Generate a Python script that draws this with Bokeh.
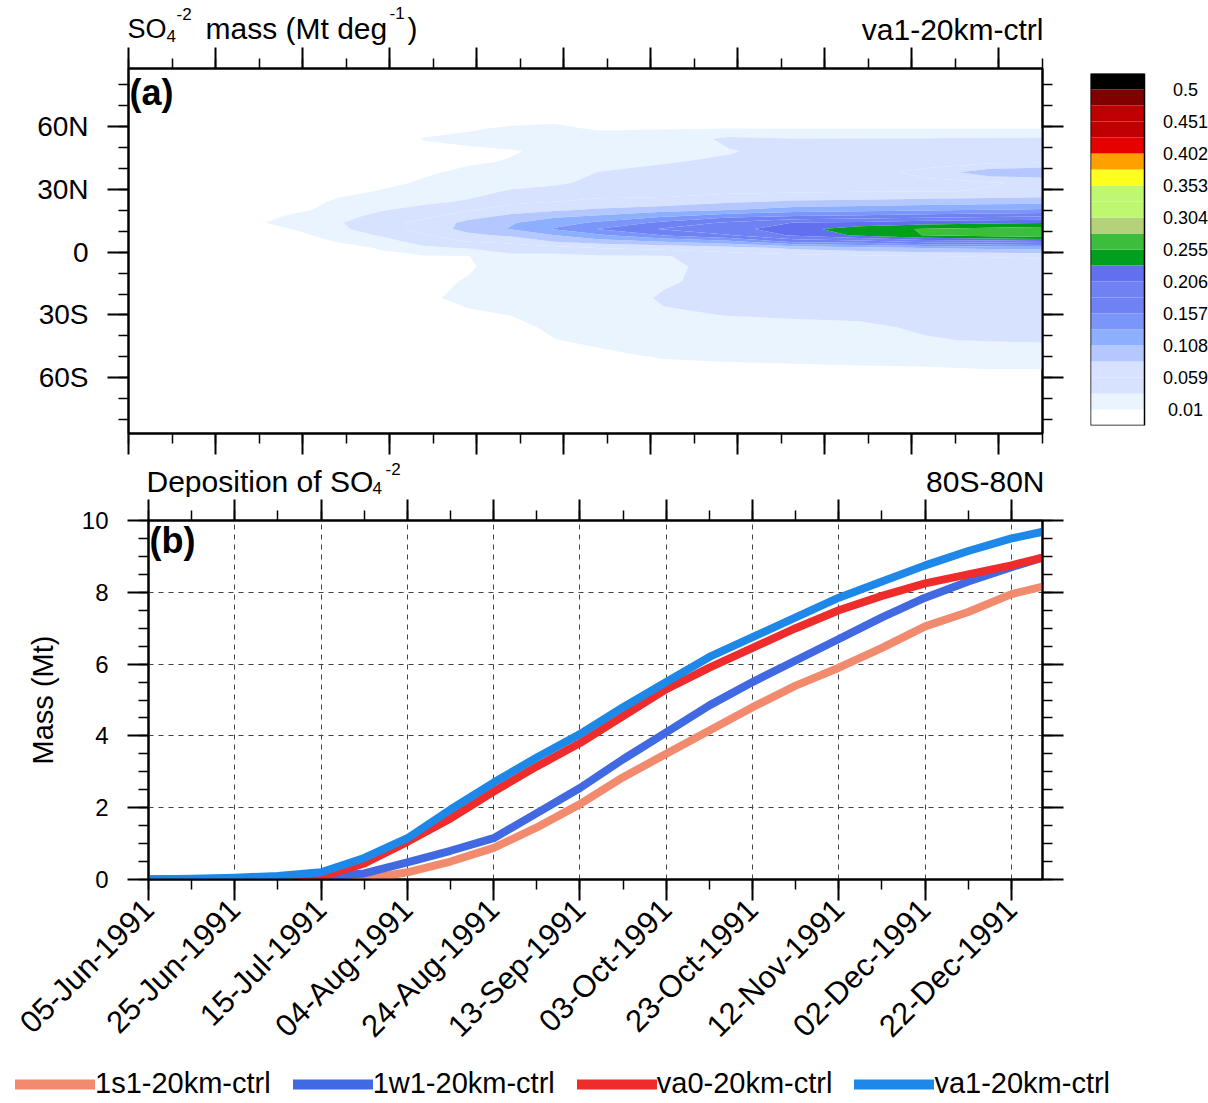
import math
import numpy as np
from bokeh.plotting import figure
from bokeh.models import Range1d, LinearAxis, FixedTicker, Label, Legend, LegendItem
from bokeh.layouts import column, row
from bokeh.embed import file_html
from bokeh.resources import INLINE
from bokeh.core.properties import value

FONT = "Liberation Sans"

# ---------------- panel (a): SO4 mass per degree latitude (Mt deg-1) ----------------
# time of each field column, days since 05-Jun-1991
time_a = [-3, 25, 35, 45, 55, 65, 75, 85, 95, 105, 120, 135, 150, 165, 180, 195, 207]
# latitude of each field row (south -> north)
lat_a = [-87, -62, -55, -48, -42, -36, -30, -22, -14, -7, -2, 2, 5, 8, 11, 14,
         17, 20, 24, 29, 33, 38, 43, 48, 54, 59, 65, 87]

so4_dm03 = [0, 0, 0, 0, 0, 0, 0, 0, 0, 0, 0, 0, 0, 0, 0, 0, 0, 0, 0, 0, 0, 0, 0, 0, 0, 0, 0, 0]
so4_d025 = [0, 0, 0, 0, 0, 0, 0, 0, 0, 0, 0, 0, 0, 0, 0, 0, 0, 0, 0, 0, 0, 0, 0, 0, 0, 0, 0, 0]
so4_d035 = [0, 0, 0, 0, 0, 0, 0, 0, 0, 0, 0, 0, 0, 0.003, 0.011, 0.028, 0.014, 0.004,
            0, 0, 0, 0, 0, 0, 0, 0, 0, 0]
so4_d045 = [0, 0, 0, 0, 0, 0, 0, 0, 0, 0, 0, 0.002, 0.011, 0.020, 0.029, 0.032, 0.026, 0.019,
            0.013, 0.005, 0, 0, 0, 0, 0, 0, 0, 0]
so4_d055 = [0, 0, 0, 0, 0, 0, 0, 0, 0, 0, 0.004, 0.012, 0.024, 0.037, 0.048, 0.050, 0.042, 0.033,
            0.022, 0.011, 0.006, 0.003, 0, 0, 0, 0, 0, 0]
so4_d065 = [0, 0, 0, 0, 0, 0, 0.002, 0.006, 0.003, 0.002, 0.008, 0.030, 0.045, 0.057, 0.068, 0.066,
            0.054, 0.042, 0.030, 0.018, 0.012, 0.008, 0.004, 0.005, 0.011, 0.003, 0, 0]
so4_d075 = [0, 0, 0, 0, 0, 0, 0.006, 0.016, 0.012, 0.007, 0.009, 0.037, 0.060, 0.078, 0.092, 0.090,
            0.075, 0.055, 0.037, 0.026, 0.019, 0.013, 0.008, 0.007, 0.014, 0.008, 0, 0]
so4_d085 = [0, 0, 0, 0, 0, 0.004, 0.0105, 0.016, 0.018, 0.022, 0.030, 0.045, 0.066, 0.088, 0.110, 0.106,
            0.090, 0.072, 0.053, 0.037, 0.026, 0.017, 0.011, 0.009, 0.016, 0.012, 0.002, 0]
so4_d095 = [0, 0, 0, 0, 0.0095, 0.014, 0.016, 0.020, 0.022, 0.025, 0.028, 0.050, 0.085, 0.108, 0.135, 0.122,
            0.104, 0.080, 0.059, 0.042, 0.031, 0.022, 0.015, 0.013, 0.016, 0.013, 0.004, 0]
so4_d105 = [0, 0, 0, 0.008, 0.013, 0.017, 0.019, 0.022, 0.024, 0.027, 0.032, 0.060, 0.097, 0.128, 0.158, 0.137,
            0.112, 0.088, 0.064, 0.049, 0.040, 0.035, 0.026, 0.020, 0.017, 0.008, 0.002, 0]
so4_d120 = [0, 0, 0.006, 0.013, 0.019, 0.026, 0.032, 0.037, 0.032, 0.030, 0.033, 0.066, 0.110, 0.158, 0.184, 0.163,
            0.130, 0.100, 0.066, 0.050, 0.046, 0.040, 0.033, 0.025, 0.018, 0.009, 0.002, 0]
so4_d135 = [0, 0, 0.007, 0.015, 0.021, 0.028, 0.035, 0.040, 0.041, 0.042, 0.045, 0.075, 0.125, 0.180, 0.197, 0.186,
            0.150, 0.108, 0.080, 0.052, 0.049, 0.045, 0.038, 0.033, 0.040, 0.009, 0.002, 0]
so4_d150 = [0, 0, 0.008, 0.016, 0.022, 0.029, 0.037, 0.042, 0.044, 0.045, 0.050, 0.090, 0.165, 0.210, 0.220, 0.207,
            0.160, 0.120, 0.087, 0.055, 0.050, 0.048, 0.044, 0.042, 0.035, 0.009, 0.002, 0]
so4_d165 = [0, 0.002, 0.009, 0.017, 0.023, 0.031, 0.038, 0.043, 0.045, 0.047, 0.055, 0.100, 0.170, 0.235, 0.245, 0.212,
            0.165, 0.125, 0.090, 0.057, 0.052, 0.050, 0.046, 0.043, 0.036, 0.009, 0.002, 0]
so4_d180 = [0, 0.003, 0.0095, 0.018, 0.033, 0.037, 0.040, 0.044, 0.046, 0.048, 0.058, 0.110, 0.190, 0.256, 0.257, 0.220,
            0.172, 0.130, 0.093, 0.058, 0.054, 0.065, 0.050, 0.045, 0.036, 0.009, 0.002, 0]
so4_d195 = [0, 0.003, 0.011, 0.022, 0.036, 0.039, 0.041, 0.045, 0.047, 0.049, 0.060, 0.115, 0.195, 0.266, 0.262, 0.225,
            0.176, 0.134, 0.096, 0.060, 0.058, 0.100, 0.053, 0.046, 0.037, 0.009, 0.002, 0]
so4_d207 = [0, 0.003, 0.011, 0.023, 0.037, 0.040, 0.042, 0.046, 0.048, 0.050, 0.062, 0.120, 0.200, 0.275, 0.268, 0.228,
            0.180, 0.137, 0.099, 0.062, 0.062, 0.105, 0.055, 0.047, 0.038, 0.009, 0.002, 0]

so4_columns = [so4_dm03, so4_d025, so4_d035, so4_d045, so4_d055, so4_d065, so4_d075, so4_d085,
               so4_d095, so4_d105, so4_d120, so4_d135, so4_d150, so4_d165, so4_d180, so4_d195, so4_d207]

so4_levels = [0.01, 0.0345, 0.059, 0.0835, 0.108, 0.1325, 0.157, 0.1815, 0.206, 0.2305, 0.255,
              0.2795, 0.304, 0.3285, 0.353, 0.3775, 0.402, 0.4265, 0.451, 0.4755, 0.5]
band_colors = ["#EAF4FF", "#D6E2FF", "#D6E2FF", "#B4C8FF", "#8CAFFF", "#7A96FA", "#6E82F4", "#6E82F4",
               "#6270F0", "#00A01E", "#3CBE3C", "#B4D27A", "#BEF86E", "#BEF86E", "#FFFF1E", "#FFA000",
               "#E60000", "#C00000", "#C00000", "#800000"]
below_color = "#FFFFFF"
above_color = "#000000"
cb_labels = ["0.01", "0.059", "0.108", "0.157", "0.206", "0.255", "0.304", "0.353", "0.402", "0.451", "0.5"]

lat_ticks = [-60, -30, 0, 30, 60]
lat_tick_labels = ["60S", "30S", "0", "30N", "60N"]
lat_minor = [-80, -70, -60, -50, -40, -30, -20, -10, 0, 10, 20, 30, 40, 50, 60, 70, 80]

# ---------------- panel (b): cumulative deposition (Mt) ----------------
days_b = [0, 10, 20, 30, 40, 50, 60, 70, 80, 90, 100, 110, 120, 130, 140, 150, 160, 170, 180, 190, 200, 207]
dep_1s1 = [0, 0, 0, 0, 0, 0, 0.2, 0.5, 0.88, 1.45, 2.1, 2.85, 3.5, 4.15, 4.8, 5.4, 5.9, 6.45, 7.05, 7.45, 7.95, 8.15]
dep_1w1 = [0, 0, 0.02, 0.04, 0.08, 0.17, 0.48, 0.8, 1.15, 1.85, 2.55, 3.35, 4.1, 4.85, 5.5, 6.1, 6.7, 7.3, 7.85, 8.3, 8.7, 8.96]
dep_va0 = [0, 0, 0, 0, 0.07, 0.45, 1.05, 1.7, 2.45, 3.15, 3.8, 4.55, 5.3, 5.9, 6.45, 7.0, 7.5, 7.9, 8.25, 8.5, 8.75, 8.96]
dep_va1 = [0, 0.02, 0.05, 0.1, 0.2, 0.6, 1.15, 1.95, 2.7, 3.4, 4.05, 4.8, 5.5, 6.2, 6.75, 7.3, 7.85, 8.3, 8.75, 9.15, 9.5, 9.68]
series_names = ["1s1-20km-ctrl", "1w1-20km-ctrl", "va0-20km-ctrl", "va1-20km-ctrl"]
series_colors = ["#F28A6E", "#4169E1", "#EE2C2C", "#1E88E8"]

tick_days = [0, 20, 40, 60, 80, 100, 120, 140, 160, 180, 200]
tick_labels = ["05-Jun-1991", "25-Jun-1991", "15-Jul-1991", "04-Aug-1991", "24-Aug-1991", "13-Sep-1991",
               "03-Oct-1991", "23-Oct-1991", "12-Nov-1991", "02-Dec-1991", "22-Dec-1991"]
mass_ticks = [0, 2, 4, 6, 8, 10]

# ---------------- geometry ----------------
A_X0, A_X1, A_Y0, A_Y1 = -3, 207, -86.5, 87.5
B_X0, B_X1, B_Y0, B_Y1 = 0, 207.2, 0, 10
HEAD_A = 45      # header strip above panel (a)
HEAD_B = 37      # header strip above panel (b)
LEG_H = 40       # legend strip at the bottom
W = 1208


def style_axis(ax, labels=True, size="28px", standoff=20):
    ax.axis_line_width = 2
    ax.axis_line_color = "black"
    ax.major_tick_in = 0
    ax.major_tick_out = 21
    ax.minor_tick_in = 0
    ax.minor_tick_out = 10
    ax.major_tick_line_width = 2
    ax.minor_tick_line_width = 1.5
    ax.major_tick_line_color = "black"
    ax.minor_tick_line_color = "black"
    ax.major_label_text_font = FONT
    if labels:
        ax.major_label_text_color = "black"
        ax.major_label_text_font_size = size
        ax.major_label_standoff = standoff
    else:
        ax.major_label_text_color = None
        ax.major_label_text_font_size = "1px"
        ax.major_label_standoff = 0


def strip(width, height):
    # text strip whose data coordinates are page pixels (x right, y down)
    h = figure(width=width, height=height, x_range=Range1d(0, width), y_range=Range1d(height, 0),
               output_backend="svg", toolbar_location=None, title=None,
               x_axis_location=None, y_axis_location=None,
               min_border_left=0, min_border_right=0, min_border_top=0, min_border_bottom=0)
    h.outline_line_color = None
    h.grid.visible = False
    return h


def put(h, x, baseline, text, px, align="left"):
    # text placed by its baseline; drawn with a middle anchor (em-box centre ~0.31 em above baseline)
    h.text(x=[x], y=[baseline - 0.31 * px], text=[text], text_font=value(FONT), text_font_size=f"{px}px",
           text_align=align, text_baseline="middle", text_color="black")


# ---------------- header of panel (a) ----------------
ha = strip(W, HEAD_A)
put(ha, 127, 37, "SO", 27)
put(ha, 166, 40.5, "4", 17)
put(ha, 176, 19, "-2", 17)
put(ha, 205, 37, "mass (Mt deg", 30)
put(ha, 389, 18, "-1", 17)
put(ha, 407, 37, ")", 30)
put(ha, 1043, 38.5, "va1-20km-ctrl", 30, align="right")

# ---------------- panel (a) ----------------
a_major = [A_X0 + 20 * k for k in range(11)]
a_minor = [A_X0 + 10 * k for k in range(22)]

PA_H = 460 - HEAD_A
pa = figure(width=1072, height=PA_H, x_range=Range1d(A_X0, A_X1), y_range=Range1d(A_Y0, A_Y1),
            output_backend="svg", toolbar_location=None, title=None,
            min_border_left=128, min_border_right=30, min_border_top=68 - HEAD_A,
            min_border_bottom=PA_H - (68 - HEAD_A) - 365)
pa.grid.visible = False
pa.outline_line_color = "black"
pa.outline_line_width = 2

Z = np.array(so4_columns, dtype=float).T
pa.contour(x=np.array(time_a, dtype=float), y=np.array(lat_a, dtype=float), z=Z,
           levels=so4_levels, fill_color=band_colors)

pa.xaxis.ticker = FixedTicker(ticks=a_major, minor_ticks=a_minor)
style_axis(pa.xaxis[0], labels=False)
pa.yaxis.ticker = FixedTicker(ticks=lat_ticks, minor_ticks=lat_minor)
pa.yaxis.major_label_overrides = {t: s for t, s in zip(lat_ticks, lat_tick_labels)}
style_axis(pa.yaxis[0], labels=True, size="28px", standoff=19)

top_a = LinearAxis(ticker=FixedTicker(ticks=a_major, minor_ticks=a_minor))
style_axis(top_a, labels=False)
pa.add_layout(top_a, "above")
right_a = LinearAxis(ticker=FixedTicker(ticks=lat_ticks, minor_ticks=lat_minor))
style_axis(right_a, labels=False)
pa.add_layout(right_a, "right")

# panel tag, centred 23 px below the frame top
pa.add_layout(Label(x=A_X0 + 0.25, y=A_Y1 - 23.5 * (A_Y1 - A_Y0) / 365, text="(a)", text_font=FONT,
                    text_font_size="36px", text_font_style="bold", text_baseline="middle",
                    text_color="black"))

# ---------------- colour bar ----------------
cb_colors = [below_color] + band_colors + [above_color]
cb_idx = list(range(len(cb_colors)))
cb = figure(width=136, height=PA_H, x_range=Range1d(0, 118 / 54), y_range=Range1d(0, len(cb_colors)),
            output_backend="svg", toolbar_location=None, title=None,
            x_axis_location=None, y_axis_location=None,
            min_border_left=18, min_border_right=0, min_border_top=73 - HEAD_A,
            min_border_bottom=PA_H - (73 - HEAD_A) - 352)
cb.outline_line_color = None
cb.grid.visible = False
cb.quad(left=0, right=1, bottom=cb_idx, top=[i + 1 for i in cb_idx], fill_color=cb_colors, line_color=None)
cb.quad(left=0, right=1, bottom=0, top=len(cb_colors), fill_color=None, line_color="black", line_width=1.5)
cb.text(x=[1.76] * len(cb_labels), y=[1 + 2 * k for k in range(len(cb_labels))], text=cb_labels,
        text_align="center", text_baseline="middle", text_font_size="18px",
        text_font=value(FONT), text_color="black")

# ---------------- header of panel (b) ----------------
hb = strip(W, HEAD_B)
put(hb, 146, 30, "Deposition of SO", 30)
put(hb, 372, 33, "4", 17)
put(hb, 385, 14, "-2", 17)
put(hb, 1044, 30.5, "80S-80N", 30, align="right")

# ---------------- panel (b) ----------------
minor_days = list(range(0, 210, 10))
minor_mass = [0.5 * k for k in range(21)]

PB_H = 1103 - 460 - HEAD_B - LEG_H
PB_TOP = 520 - 460 - HEAD_B
pb = figure(width=W, height=PB_H, x_range=Range1d(B_X0, B_X1), y_range=Range1d(B_Y0, B_Y1),
            output_backend="svg", toolbar_location=None, title=None,
            min_border_left=148, min_border_right=166, min_border_top=PB_TOP,
            min_border_bottom=PB_H - PB_TOP - 359)
pb.outline_line_color = "black"
pb.outline_line_width = 2
pb.xgrid.ticker = FixedTicker(ticks=tick_days)
pb.ygrid.ticker = FixedTicker(ticks=mass_ticks)
pb.grid.grid_line_color = "#444444"
pb.grid.grid_line_width = 1
pb.grid.grid_line_dash = "5 5"

pb.xaxis.ticker = FixedTicker(ticks=tick_days, minor_ticks=minor_days)
pb.xaxis.major_label_overrides = {d: s for d, s in zip(tick_days, tick_labels)}
style_axis(pb.xaxis[0], labels=True, size="31px", standoff=4)
pb.xaxis.major_label_orientation = math.pi / 4

pb.yaxis.ticker = FixedTicker(ticks=mass_ticks, minor_ticks=minor_mass)
style_axis(pb.yaxis[0], labels=True, size="24px", standoff=19)
pb.yaxis.axis_label = "Mass (Mt)"
pb.yaxis.axis_label_text_font = FONT
pb.yaxis.axis_label_text_font_size = "29px"
pb.yaxis.axis_label_text_font_style = "normal"
pb.yaxis.axis_label_text_color = "black"
pb.yaxis.axis_label_standoff = 20

top_b = LinearAxis(ticker=FixedTicker(ticks=tick_days, minor_ticks=minor_days))
style_axis(top_b, labels=False)
pb.add_layout(top_b, "above")
right_b = LinearAxis(ticker=FixedTicker(ticks=mass_ticks, minor_ticks=minor_mass))
style_axis(right_b, labels=False)
pb.add_layout(right_b, "right")

for vals, col in zip([dep_1s1, dep_1w1, dep_va0, dep_va1], series_colors):
    pb.line(days_b, vals, line_color=col, line_width=8, line_cap="round", line_join="round")

# panel tag, centred 20 px below the frame top
pb.add_layout(Label(x=B_X0 + 0.25, y=B_Y1 - 20 * (B_Y1 - B_Y0) / 359, text="(b)", text_font=FONT,
                    text_font_size="36px", text_font_style="bold", text_baseline="middle",
                    text_color="black"))

# ---------------- legend strip ----------------
hl = strip(W, LEG_H)
items = []
for name, col in zip(series_names, series_colors):
    # keys for the legend only: the sample segment lies above the strip's visible area
    r = hl.line(x=[0, 1], y=[-20, -20], line_color=col, line_width=10, line_cap="round")
    items.append(LegendItem(label=name, renderers=[r]))
legend = Legend(items=items, orientation="horizontal", location=(15, 3),
                label_text_font=FONT, label_text_font_size="29px", label_text_color="black",
                glyph_width=80, glyph_height=30, label_height=30, label_standoff=0,
                spacing=22, padding=0, margin=0, border_line_color=None, background_fill_alpha=0)
hl.add_layout(legend)

layout = column(ha, row(column(pa), column(cb)), hb, row(pb), hl)
open("out.html", "w").write(file_html(layout, INLINE))
